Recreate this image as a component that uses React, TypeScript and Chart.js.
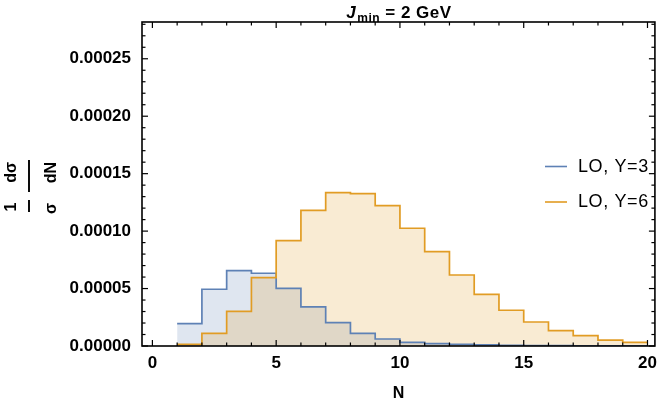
import React, { useEffect, useRef } from "react";
import { Chart, registerables } from "chart.js";

Chart.register(...registerables);

// ---- data ----
const binStarts = [1, 2, 3, 4, 5, 6, 7, 8, 9, 10, 11, 12, 13, 14, 15, 16, 17, 18, 19];
const lastEdge = 20;
const seriesNames = ["LO, Y=3", "LO, Y=6"];
const loY3 = [
  1.94e-5, 4.94e-5, 6.56e-5, 6.33e-5, 5.02e-5, 3.4e-5, 2.03e-5, 1.1e-5, 6.1e-6, 3.2e-6,
  2.0e-6, 1.4e-6, 0.9e-6, 0.6e-6, 0.4e-6, 0.3e-6, 0.2e-6, 0.1e-6, 0.1e-6,
];
const loY6 = [
  1.5e-6, 1.1e-5, 3.02e-5, 5.95e-5, 9.17e-5, 1.18e-4, 1.335e-4, 1.327e-4, 1.222e-4, 1.025e-4,
  8.21e-5, 6.18e-5, 4.5e-5, 3.11e-5, 2.09e-5, 1.33e-5, 9.0e-6, 5.2e-6, 3.2e-6,
];
const xTickValues = [0, 5, 10, 15, 20];
const yTickStep = 0.00005;
const yMinorStep = 0.00001;

const FONT = '"Liberation Sans", Arial, Helvetica, sans-serif';
const BLUE = "#5E81B5";
const ORANGE = "#E19C24";

function toSteps(vals: number[]) {
  const pts = binStarts.map((x, i) => ({ x, y: vals[i] }));
  pts.push({ x: lastEdge, y: vals[vals.length - 1] });
  return pts;
}

const decorPlugin = {
  id: "decor",
  afterDraw(chart: any) {
    const { ctx, chartArea: a } = chart;
    const xs = chart.scales.x;
    const ys = chart.scales.y;
    ctx.save();
    ctx.strokeStyle = "#000";
    ctx.fillStyle = "#000";

    // ticks (inward, on all four sides)
    ctx.lineWidth = 1.2;
    const seg = (x1: number, y1: number, x2: number, y2: number) => {
      ctx.beginPath();
      ctx.moveTo(x1, y1);
      ctx.lineTo(x2, y2);
      ctx.stroke();
    };
    for (let v = 0; v <= lastEdge; v++) {
      const px = xs.getPixelForValue(v);
      const len = xTickValues.includes(v) ? 6 : 3.5;
      seg(px, a.bottom, px, a.bottom - len);
      seg(px, a.top, px, a.top + len);
    }
    const nMinor = Math.floor(ys.max / yMinorStep + 1e-9);
    for (let k = 0; k <= nMinor; k++) {
      const py = ys.getPixelForValue(k * yMinorStep);
      const len = k % 5 === 0 ? 6 : 3.5;
      seg(a.left, py, a.left + len, py);
      seg(a.right, py, a.right - len, py);
    }

    // frame
    ctx.lineWidth = 1.6;
    ctx.strokeRect(a.left, a.top, a.right - a.left, a.bottom - a.top);

    // title  J_min = 2 GeV
    const cx = (a.left + a.right) / 2;
    ctx.textBaseline = "alphabetic";
    ctx.textAlign = "left";
    (ctx as any).letterSpacing = "0.5px";
    ctx.font = `italic bold 17px ${FONT}`;
    const wJ = ctx.measureText("J").width;
    ctx.font = `bold 12px ${FONT}`;
    const wMin = ctx.measureText("min").width;
    ctx.font = `bold 17px ${FONT}`;
    const rest = " = 2 GeV";
    const wRest = ctx.measureText(rest).width;
    let tx = cx - (wJ + wMin + wRest) / 2;
    ctx.font = `italic bold 17px ${FONT}`;
    ctx.fillText("J", tx, 18);
    tx += wJ + 1;
    ctx.font = `bold 12px ${FONT}`;
    ctx.fillText("min", tx, 22);
    tx += wMin;
    ctx.font = `bold 17px ${FONT}`;
    ctx.fillText(rest, tx, 18);
    (ctx as any).letterSpacing = "0px";

    // x axis title
    ctx.font = `bold 16px ${FONT}`;
    ctx.textAlign = "center";
    ctx.fillText("N", cx, 398);

    // y axis title: (1/σ)(dσ/dN), rotated
    ctx.save();
    ctx.rotate(-Math.PI / 2);
    ctx.font = `bold 16px ${FONT}`;
    ctx.textAlign = "center";
    ctx.fillText("1", -207, 15.5);
    ctx.fillText("σ", -208.5, 55.5);
    ctx.fillText("dσ", -172.5, 15.5);
    ctx.fillText("dN", -172.5, 55.5);
    ctx.lineWidth = 1.9;
    seg(-212, 29, -200, 29);
    seg(-192, 29, -160, 29);
    ctx.restore();

    // legend
    const items = [
      { name: seriesNames[0], color: BLUE, y: 166.5 },
      { name: seriesNames[1], color: ORANGE, y: 202 },
    ];
    ctx.font = `18px ${FONT}`;
    ctx.textAlign = "left";
    ctx.textBaseline = "middle";
    for (const it of items) {
      ctx.strokeStyle = it.color;
      ctx.lineWidth = 1.6;
      seg(545, it.y, 567, it.y);
      ctx.fillStyle = "#000";
      (ctx as any).letterSpacing = "0.6px";
      ctx.fillText(it.name, 578, it.y + 0.5);
      (ctx as any).letterSpacing = "0px";
    }
    ctx.restore();
  },
};

export default function App() {
  const ref = useRef<HTMLCanvasElement | null>(null);
  useEffect(() => {
    if (!ref.current) return;
    const chart = new Chart(ref.current, {
      type: "line",
      data: {
        datasets: [
          {
            label: seriesNames[0],
            data: toSteps(loY3),
            stepped: "before",
            borderColor: BLUE,
            backgroundColor: "rgba(94,129,181,0.2)",
            borderWidth: 1.7,
            pointRadius: 0,
            fill: "origin",
            order: 1,
          },
          {
            label: seriesNames[1],
            data: toSteps(loY6),
            stepped: "before",
            borderColor: ORANGE,
            backgroundColor: "rgba(225,156,36,0.2)",
            borderWidth: 1.7,
            pointRadius: 0,
            fill: "origin",
            order: 0,
          },
        ],
      },
      options: {
        animation: false,
        responsive: false,
        layout: { padding: { top: 22, right: 4, left: 0, bottom: 0 } },
        plugins: {
          legend: { display: false },
          tooltip: { enabled: false },
          filler: { drawTime: "beforeDatasetsDraw", propagate: false },
        },
        scales: {
          x: {
            type: "linear",
            min: -0.42,
            max: 20.3,
            grid: { display: false, drawTicks: false },
            border: { display: false },
            ticks: {
              stepSize: 5,
              includeBounds: false,
              color: "#000",
              padding: 7,
              maxRotation: 0,
              font: { family: FONT, size: 17, weight: "bold" },
            },
            afterFit: (s: any) => {
              s.height = 57;
            },
          },
          y: {
            type: "linear",
            min: 0,
            max: 0.000282,
            grid: { display: false, drawTicks: false },
            border: { display: false },
            ticks: {
              stepSize: yTickStep,
              includeBounds: false,
              color: "#000",
              padding: 11,
              font: { family: FONT, size: 17, weight: "bold" },
              callback: (v: any) => Number(v).toFixed(5),
            },
            afterFit: (s: any) => {
              s.width = 142;
            },
          },
        },
      } as any,
      plugins: [decorPlugin],
    });
    return () => chart.destroy();
  }, []);
  return (
    <div style={{ position: "absolute", left: 0, top: 0, width: 664, height: 403, background: "#fff" }}>
      <canvas ref={ref} width={664} height={403} style={{ display: "block" }} />
    </div>
  );
}
